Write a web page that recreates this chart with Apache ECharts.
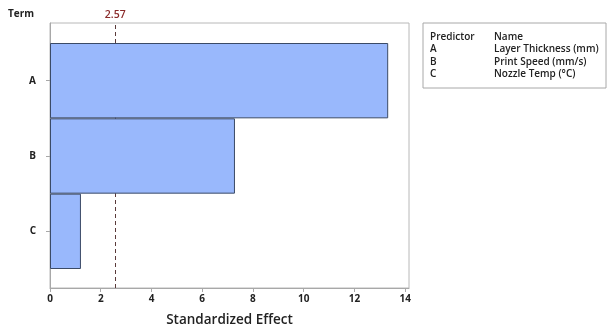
<!DOCTYPE html>
<html>
<head>
<meta charset="utf-8">
<script src="https://cdn.jsdelivr.net/npm/echarts@6/dist/echarts.min.js"></script>
<style>html,body{margin:0;padding:0;background:#fff;}#c{width:609px;height:336px;}</style>
</head>
<body>
<div id="c"></div>
<script>
var terms = ['A', 'B', 'C'];
var effects = [13.33, 7.29, 1.22];
var criticalValue = 2.57;
var xTicks = [0, 2, 4, 6, 8, 10, 12, 14];
var predictorCodes = ['A', 'B', 'C'];
var predictorNames = ['Layer Thickness (mm)', 'Print Speed (mm/s)', 'Nozzle Temp (\u00B0C)'];

var FONT = '"Open Sans", "Noto Sans", sans-serif';
var chart = echarts.init(document.getElementById('c'), null, {renderer: 'canvas'});

var legendChildren = [
  {type: 'rect', shape: {x: 423, y: 23, width: 183, height: 65}, style: {fill: 'none', stroke: '#a8a8a8', lineWidth: 1}},
  {type: 'text', x: 430, y: 37, style: {text: 'Predictor', font: '600 10px ' + FONT, fill: '#222', verticalAlign: 'middle'}},
  {type: 'text', x: 494, y: 37, style: {text: 'Name', font: '600 10px ' + FONT, fill: '#222', verticalAlign: 'middle'}}
];
predictorCodes.forEach(function (code, i) {
  var y = 49.5 + i * 12.5;
  legendChildren.push({type: 'text', x: 430, y: y, style: {text: code, font: '600 10px ' + FONT, fill: '#222', verticalAlign: 'middle'}});
  legendChildren.push({type: 'text', x: 494, y: y, style: {text: predictorNames[i], font: '600 10px ' + FONT, fill: '#222', verticalAlign: 'middle'}});
});
legendChildren.push({type: 'text', x: 8, y: 14, style: {text: 'Term', font: 'bold 10px ' + FONT, fill: '#222', verticalAlign: 'middle'}});

var option = {
  animation: false,
  backgroundColor: '#fff',
  grid: [
    {left: 50, right: 200, top: 23, bottom: 48, show: true, borderColor: '#b8b8b8', borderWidth: 1, backgroundColor: 'transparent'},
    {left: 50, right: 200, top: 43, bottom: 67}
  ],
  xAxis: [
    {
      type: 'value', gridIndex: 0, min: 0, max: 14.15, interval: 2,
      axisLine: {show: true, lineStyle: {color: '#a8a8a8'}},
      axisTick: {show: true, length: 4, lineStyle: {color: '#a8a8a8'}},
      splitLine: {show: false},
      axisLabel: {
        showMaxLabel: false, margin: 6, color: '#222', fontSize: 10, fontWeight: 'bold', fontFamily: FONT,
        formatter: function (v) { return xTicks.indexOf(v) >= 0 ? String(v) : ''; }
      },
      name: 'Standardized Effect', nameLocation: 'middle', nameGap: 25,
      nameTextStyle: {fontSize: 13.5, fontWeight: 600, color: '#222', fontFamily: FONT}
    },
    {
      type: 'value', gridIndex: 1, min: 0, max: 14.15, show: false
    }
  ],
  yAxis: [
    {
      type: 'value', gridIndex: 0, min: 0, max: 1,
      axisLine: {show: true, lineStyle: {color: '#a8a8a8'}},
      axisTick: {show: false}, axisLabel: {show: false}, splitLine: {show: false}
    },
    {
      type: 'category', gridIndex: 1, data: terms, inverse: true,
      axisLine: {show: false},
      axisTick: {show: true, alignWithLabel: true, length: 4, lineStyle: {color: '#a8a8a8'}},
      axisLabel: {margin: 14, color: '#222', fontSize: 10, fontWeight: 'bold', fontFamily: FONT},
      splitLine: {show: false}
    }
  ],
  series: [
    {
      type: 'line', xAxisIndex: 0, yAxisIndex: 0, data: [], z: 1, silent: true,
      markLine: {
        silent: true, symbol: 'none', z: 1,
        lineStyle: {type: [4, 3], color: '#5a3a3a', width: 1},
        label: {show: true, position: 'end', formatter: String(criticalValue), color: '#8a2a2a', fontSize: 10.5, fontWeight: 600, fontFamily: FONT, distance: 2},
        data: [{xAxis: criticalValue}]
      }
    },
    {
      type: 'bar', xAxisIndex: 1, yAxisIndex: 1, data: effects, z: 3,
      barCategoryGap: '0%',
      itemStyle: {color: '#99b8fc', borderColor: '#3b4a66', borderWidth: 1}
    }
  ],
  graphic: legendChildren
};
chart.setOption(option);
</script>
</body>
</html>
